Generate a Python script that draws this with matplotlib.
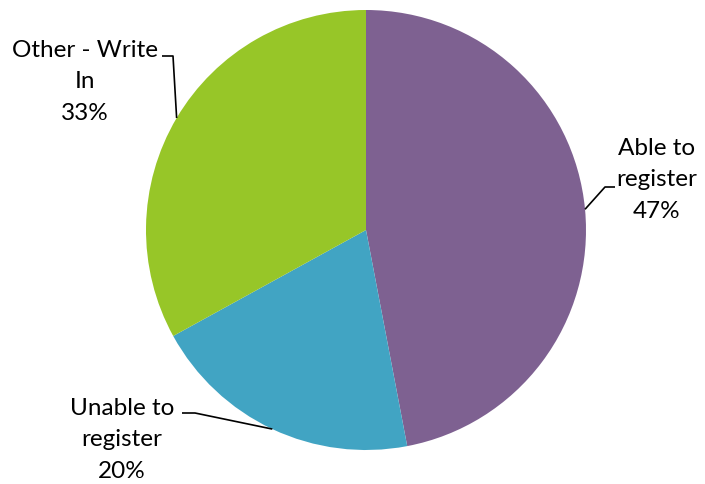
import numpy as np
import matplotlib
matplotlib.use('Agg')
import matplotlib.pyplot as plt

plt.rcParams['font.family'] = ['Lato', 'DejaVu Sans']

# 数据
labels = ['Able to\nregister', 'Unable to\nregister', 'Other - Write\nIn']
values = [47, 20, 33]
colors = ['#7E6191', '#41A4C3', '#97C628']

# 标签位置 (像素, y向下) 和引线折点
text_pos = [(657, 180), (122, 440), (85, 82)]
elbows = [[(605, 188), (615, 188)],
          [(195, 414), (182, 414)],
          [(173, 57), (162, 57)]]

W, H = 705, 485
fig = plt.figure(figsize=(W / 100, H / 100), dpi=100)
ax = fig.add_axes([0, 0, 1, 1])

cx, cy, r = 366, H - 231, 220
wedges, _ = ax.pie(values, colors=colors, startangle=90, counterclock=False,
                   center=(cx, cy), radius=r, frame=True,
                   wedgeprops=dict(linewidth=0))
ax.set_xlim(0, W)
ax.set_ylim(0, H)
ax.set_aspect('equal')
ax.axis('off')

for w, lab, v, (tx, ty), elb in zip(wedges, labels, values, text_pos, elbows):
    mid = np.deg2rad((w.theta1 + w.theta2) / 2)
    px, py = cx + r * np.cos(mid), cy + r * np.sin(mid)
    xs = [px] + [e[0] for e in elb]
    ys = [py] + [H - e[1] for e in elb]
    ax.plot(xs, ys, color='black', lw=1.2, solid_capstyle='butt')
    ax.text(tx, H - ty, f'{lab}\n{v}%', ha='center', va='center',
            fontsize=17.5, linespacing=1.6, color='black')

fig.savefig('out.png', dpi=100)
